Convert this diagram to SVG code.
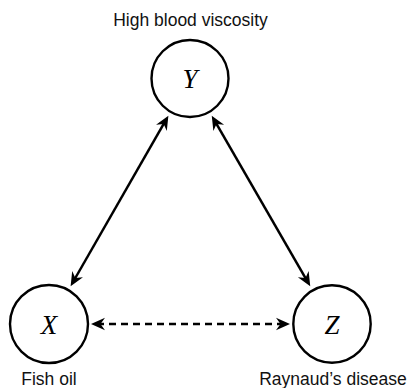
<svg xmlns="http://www.w3.org/2000/svg" width="412" height="388" viewBox="0 0 412 388">
  <style>
    .node circle { fill: #fff; stroke: #000; stroke-width: 2.4; }
    .var { font-family: "Liberation Serif", "Times New Roman", serif; font-style: italic; font-size: 27px; fill: #000; text-anchor: middle; }
    .label { font-family: "Liberation Sans", Arial, Helvetica, sans-serif; font-size: 17.5px; fill: #111; text-anchor: middle; }
    .edge { fill: none; stroke: #000; stroke-width: 2.5; marker-start: url(#head); marker-end: url(#head); }
    .dashed { stroke-dasharray: 7 5; }
  </style>
  <defs>
    <!-- stealth-style arrowhead, tip sits 6px beyond the line end -->
    <marker id="head" viewBox="-16 -8 17 16" refX="-6" refY="0" markerWidth="17" markerHeight="16" markerUnits="userSpaceOnUse" orient="auto-start-reverse">
      <path d="M0,0 L-14,-6.2 L-9.5,0 L-14,6.2 Z" fill="#000"/>
    </marker>
  </defs>

  <g id="connectors">
    <line class="edge" x1="73.6" y1="281.0" x2="165.4" y2="120.9"/>
    <line class="edge" x1="214.75" y1="120.9" x2="307.25" y2="281.1"/>
    <line class="edge dashed" x1="97" y1="324" x2="284" y2="324"/>
  </g>

  <g id="node-Y" class="node">
    <circle cx="190" cy="78.5" r="38.5"/>
    <text class="var" x="190" y="88">Y</text>
    <text class="label" x="190.5" y="26">High blood viscosity</text>
  </g>

  <g id="node-X" class="node">
    <circle cx="49" cy="324" r="39"/>
    <text class="var" x="49" y="333.5">X</text>
    <text class="label" x="49" y="385">Fish oil</text>
  </g>

  <g id="node-Z" class="node">
    <circle cx="332" cy="324" r="38.7"/>
    <text class="var" x="332" y="333.5">Z</text>
    <text class="label" x="333" y="385">Raynaud’s disease</text>
  </g>
</svg>
